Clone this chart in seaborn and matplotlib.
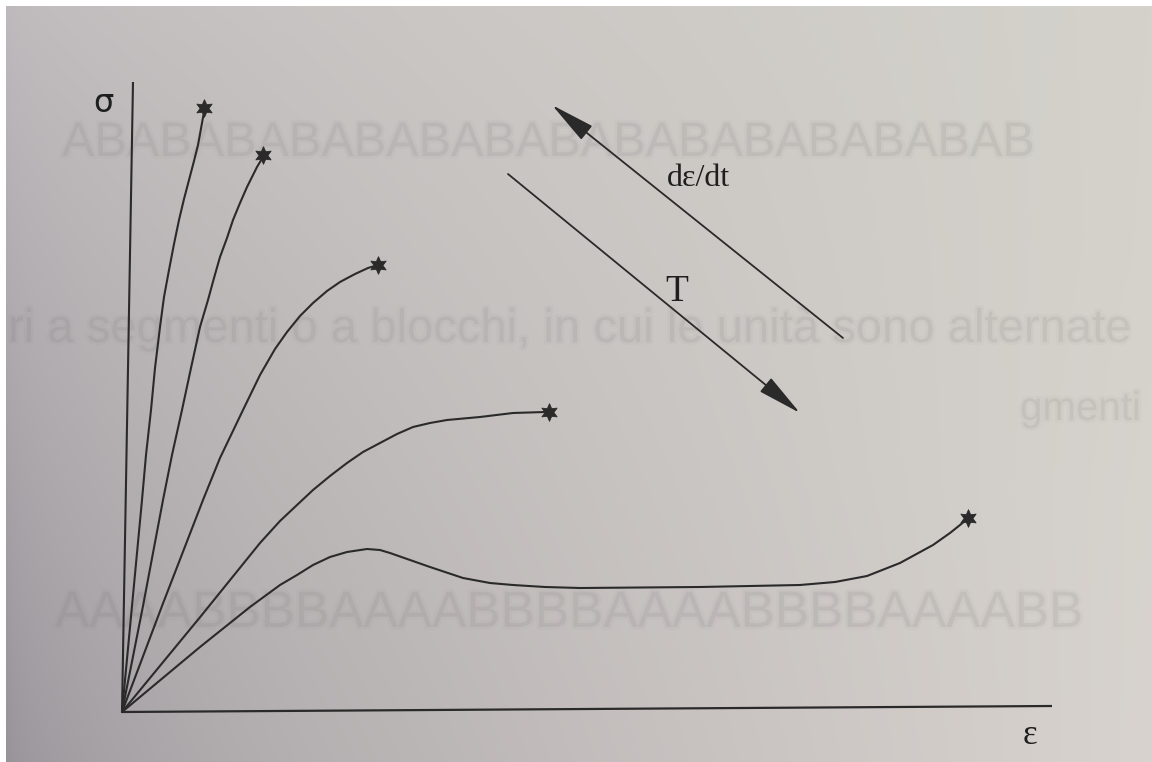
import numpy as np
import pandas as pd
import matplotlib
matplotlib.use("Agg")
import matplotlib.pyplot as plt
import matplotlib.patheffects as pe
import seaborn as sns

# Stress-strain curves: strain rate falls / temperature rises from curve A to E.
# Strain and stress in arbitrary units; each curve ends at a fracture point.
strain_a = [0, 0.10, 0.20, 0.24, 0.29, 0.33, 0.38, 0.42, 0.47, 0.52, 0.57,
            0.62, 0.67, 0.72, 0.76, 0.82]
stress_a = [0, 1.06, 2.12, 2.57, 3.02, 3.44, 3.85, 4.15, 4.42, 4.68, 4.92,
            5.13, 5.32, 5.51, 5.67, 6.00]

strain_b = [0, 0.21, 0.41, 0.50, 0.60, 0.69, 0.78, 0.86, 0.92, 0.98, 1.05,
            1.11, 1.18, 1.25, 1.30, 1.35, 1.41]
stress_b = [0, 1.06, 2.12, 2.57, 3.02, 3.44, 3.85, 4.12, 4.34, 4.55, 4.74,
            4.92, 5.09, 5.25, 5.35, 5.45, 5.55]

strain_c = [0, 0.40, 0.81, 0.98, 1.21, 1.38, 1.53, 1.65, 1.78, 1.91, 2.05,
            2.18, 2.33, 2.46, 2.56]
stress_c = [0, 1.06, 2.12, 2.54, 3.02, 3.37, 3.63, 3.80, 3.96, 4.09, 4.21,
            4.30, 4.38, 4.44, 4.47]

strain_d = [0, 0.79, 1.38, 1.58, 1.75, 1.91, 2.08, 2.25, 2.41, 2.58, 2.75,
            2.91, 3.08, 3.25, 3.58, 3.91, 4.23]
stress_d = [0, 0.96, 1.69, 1.91, 2.07, 2.22, 2.36, 2.49, 2.60, 2.69, 2.78,
            2.85, 2.89, 2.92, 2.95, 2.99, 3.00]

strain_e = [0, 0.78, 1.28, 1.58, 1.75, 1.91, 2.08, 2.25, 2.45, 2.58, 2.68,
            2.88, 3.08, 3.41, 3.68, 3.91, 4.23, 4.58, 5.78, 6.78, 7.13, 7.45,
            7.78, 8.11, 8.28, 8.38, 8.44]
stress_e = [0, 0.65, 1.05, 1.27, 1.37, 1.47, 1.55, 1.60, 1.63, 1.62, 1.59,
            1.52, 1.45, 1.34, 1.29, 1.27, 1.25, 1.24, 1.25, 1.27, 1.30, 1.36,
            1.49, 1.67, 1.79, 1.87, 1.92]

# fracture points (asterisks)
break_strain = [0.82, 1.41, 2.56, 4.27, 8.46]
break_stress = [6.04, 5.57, 4.47, 3.00, 1.94]

curve_names = ["A", "B", "C", "D", "E"]

# hand-drawn axes (slightly skewed, as printed)
sigma_axis_x = [0, 0.11]
sigma_axis_y = [0, 6.30]
eps_axis_x = [0, 9.30]
eps_axis_y = [0, 0.06]

# trend arrows: (tail, tip)
rate_arrow = ((7.21, 3.74), (4.30, 6.07))
temp_arrow = ((3.86, 5.38), (6.78, 2.99))

ink = "#2a2a2a"

frames = []
for name, xs, ys in zip(curve_names,
                        [strain_a, strain_b, strain_c, strain_d, strain_e],
                        [stress_a, stress_b, stress_c, stress_d, stress_e]):
    frames.append(pd.DataFrame({"strain": xs, "stress": ys, "curve": name}))
curves = pd.concat(frames, ignore_index=True)
breaks = pd.DataFrame({"strain": break_strain, "stress": break_stress})

sns.set_theme(style="white")
plt.rcParams["font.family"] = ["Liberation Serif", "DejaVu Serif"]

W, H = 1152, 762
fig = plt.figure(figsize=(W / 100, H / 100), dpi=100)
fig.patch.set_facecolor("white")
ax = fig.add_axes([6 / W, 0, (W - 6) / W, (H - 6) / H])
x0, x1 = -1.16, 10.30
y0, y1 = -0.50, 7.06
ax.set_xlim(x0, x1)
ax.set_ylim(y0, y1)
ax.set_axis_off()

# paper tone: darker toward the lower left, lighter toward the right
gx = np.linspace(0, 1, 300)[None, :]
gy = np.linspace(0, 1, 200)[:, None]
tl = np.array([190, 185, 188]) / 255
tr = np.array([212, 210, 203]) / 255
bl = np.array([152, 147, 153]) / 255
br = np.array([216, 211, 206]) / 255
wx = gx[..., None] ** 0.6
wy = gy[..., None]
paper = (tl * (1 - wx) * (1 - wy) + tr * wx * (1 - wy)
         + bl * (1 - wx) * wy + br * wx * wy)
ax.imshow(paper, extent=(x0, x1, y0, y1), origin="upper",
          aspect="auto", interpolation="bilinear", zorder=0)

# faint, soft show-through from the other side of the page
ghost_color = "#6e6a6c"
soft = [pe.Stroke(linewidth=4, foreground=ghost_color, alpha=0.035),
        pe.Normal()]
ghost_lines = [
    (-0.60, 5.56, "ABABABABABABABABABABABABABABAB", 35),
    (-1.14, 3.70, "ri a segmenti o a blocchi, in cui le unità sono alternate", 34),
    (8.98, 2.92, "gmenti", 29),
    (-0.67, 0.85, "AAAABBBBAAAABBBBAAAABBBBAAAABB", 37),
]
for gx_, gy_, txt, fs in ghost_lines:
    ax.text(gx_, gy_, txt, fontsize=fs,
            family=["Liberation Sans", "DejaVu Sans"], color=ghost_color,
            alpha=0.07, zorder=1, va="baseline", path_effects=soft)

# axes lines
ax.plot(sigma_axis_x, sigma_axis_y, color=ink, lw=1.5, zorder=3,
        solid_capstyle="butt")
ax.plot(eps_axis_x, eps_axis_y, color=ink, lw=1.6, zorder=3,
        solid_capstyle="butt")

sns.lineplot(data=curves, x="strain", y="stress", hue="curve",
             palette=[ink] * 5, sort=False, estimator=None, lw=1.5,
             legend=False, ax=ax, zorder=3)
sns.scatterplot(data=breaks, x="strain", y="stress", marker=(6, 1, 0),
                s=160, color=ink, edgecolor=ink, linewidth=0.6,
                ax=ax, zorder=4)

for tail, tip in (rate_arrow, temp_arrow):
    ax.annotate("", xy=tip, xytext=tail, zorder=3,
                arrowprops=dict(arrowstyle="-|>,head_length=2.8,head_width=0.55",
                                mutation_scale=10, lw=1.3, color=ink,
                                shrinkA=0, shrinkB=0))

ax.text(5.77, 5.33, "dε/dt", fontsize=23, color="#1e1e1e",
        ha="center", va="center", zorder=5)
ax.text(5.55, 4.20, "T", fontsize=27, color="#1e1e1e",
        ha="center", va="center", zorder=5)
ax.text(-0.19, 6.08, "σ", fontsize=23, color="#1e1e1e",
        family=["DejaVu Sans"], ha="center", va="center", zorder=5)
ax.text(9.08, -0.23, "ɛ", fontsize=25, color="#1e1e1e",
        ha="center", va="center", zorder=5)

fig.savefig("out.png", dpi=100, facecolor=fig.get_facecolor())
